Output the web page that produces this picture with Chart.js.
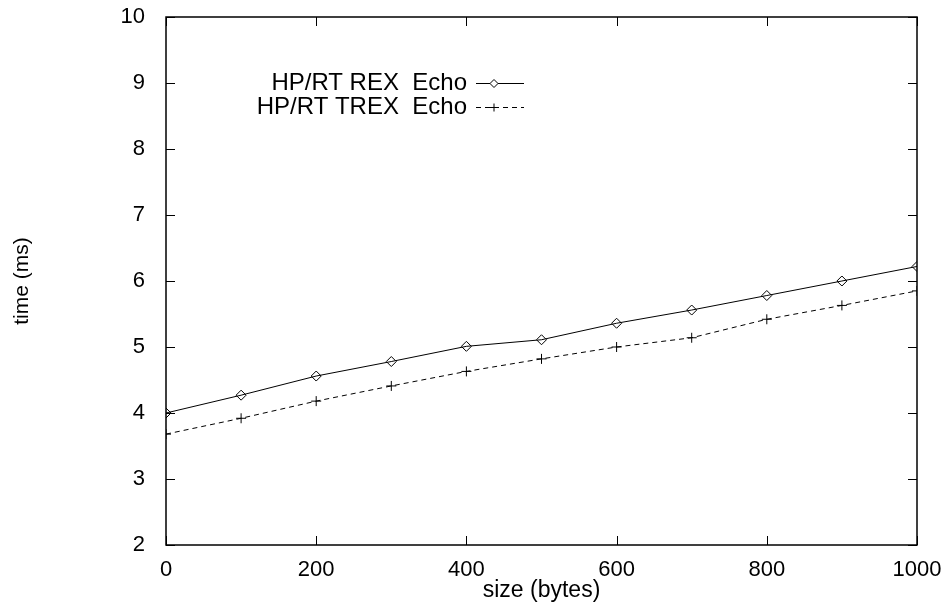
<!DOCTYPE html>
<html>
<head>
<meta charset="utf-8">
<script src="https://cdn.jsdelivr.net/npm/chart.js@4/dist/chart.umd.min.js"></script>
<style>
  html, body { margin: 0; padding: 0; background: #fff; }
  #wrap { width: 945px; height: 607px; }
</style>
</head>
<body>
<div id="wrap"><canvas id="chart_line"></canvas></div>
<script>
// message size in bytes
var sizes = [0, 100, 200, 300, 400, 500, 600, 700, 800, 900, 1000]
// round trip time (ms)
var rexEcho  = [4.00, 4.27, 4.56, 4.78, 5.01, 5.11, 5.36, 5.56, 5.78, 6.00, 6.22]
var trexEcho = [3.68, 3.92, 4.18, 4.41, 4.63, 4.82, 5.00, 5.14, 5.42, 5.63, 5.85]
var seriesNames = ["HP/RT REX  Echo", "HP/RT TREX  Echo"]
var xTicks = [0, 200, 400, 600, 800, 1000]
var yTicks = [2, 3, 4, 5, 6, 7, 8, 9, 10]

var FONT = "'Liberation Sans', Arial, Helvetica, sans-serif"

function pts(ys){
	return sizes.map(function(x, i){ return {x: x, y: ys[i]} })
}

// gnuplot style frame with inward ticks + legend at top left
var framePlugin = {
	id: "frame",
	afterDatasetsDraw: function(chart){
		var ctx = chart.ctx, a = chart.chartArea
		var xs = chart.scales.x, ys = chart.scales.y
		var tl = 9
		ctx.save()
		ctx.strokeStyle = "#000"
		ctx.lineWidth = 1
		ctx.setLineDash([])
		ctx.beginPath()
		xTicks.forEach(function(v){
			var p = Math.round(xs.getPixelForValue(v)) + 0.5
			ctx.moveTo(p, a.bottom); ctx.lineTo(p, a.bottom - tl)
			ctx.moveTo(p, a.top); ctx.lineTo(p, a.top + tl)
		})
		yTicks.forEach(function(v){
			var p = Math.round(ys.getPixelForValue(v)) + 0.5
			ctx.moveTo(a.left, p); ctx.lineTo(a.left + tl, p)
			ctx.moveTo(a.right, p); ctx.lineTo(a.right - tl, p)
		})
		ctx.stroke()
		ctx.lineWidth = 1.5
		ctx.strokeRect(a.left, a.top, a.right - a.left, a.bottom - a.top)

		// legend
		ctx.font = "24px " + FONT
		ctx.textAlign = "right"
		ctx.textBaseline = "middle"
		var rows = [83, 107]
		chart.data.datasets.forEach(function(ds, i){
			var y = rows[i]
			ctx.fillStyle = "#000"
			ctx.fillText(ds.label, 467, y)
			ctx.lineWidth = 1
			ctx.setLineDash(ds.borderDash || [])
			ctx.beginPath()
			ctx.moveTo(476, y + 0.5); ctx.lineTo(524, y + 0.5)
			ctx.stroke()
			ctx.setLineDash([])
			ctx.fillStyle = "#fff"
			Chart.helpers.drawPoint(ctx, {
				pointStyle: ds.pointStyle, radius: 4, rotation: 0, borderWidth: 1
			}, 494, y + 0.5)
		})
		ctx.restore()
	}
}

var ctx = document.getElementById("chart_line")
var myChart = new Chart(ctx, {
	type: "line",
	data: {
		datasets: [{
			label: seriesNames[0],
			data: pts(rexEcho),
			borderColor: "#000",
			borderWidth: 1,
			backgroundColor: "rgba(0,0,0,0)",
			pointStyle: "rectRot",
			pointRadius: 5,
			pointBorderWidth: 1,
			pointBorderColor: "#000",
			pointBackgroundColor: "rgba(0,0,0,0)",
			tension: 0
		}, {
			label: seriesNames[1],
			data: pts(trexEcho),
			borderColor: "#000",
			borderWidth: 1,
			borderDash: [5, 4],
			backgroundColor: "rgba(0,0,0,0)",
			pointStyle: "cross",
			pointRadius: 5,
			pointBorderWidth: 1,
			pointBorderColor: "#000",
			tension: 0
		}]
	},
	options: {
		responsive: true,
		maintainAspectRatio: false,
		animation: false,
		layout: { padding: { top: 17, right: 28, left: 0, bottom: 0 } },
		plugins: { legend: { display: false }, tooltip: { enabled: false } },
		scales: {
			x: {
				type: "linear",
				min: 0, max: 1000,
				afterBuildTicks: function(s){ s.ticks = xTicks.map(function(v){ return {value: v} }) },
				afterFit: function(s){ s.height = 62; s.paddingLeft = 0; s.paddingRight = 0 },
				grid: { display: false },
				border: { display: false },
				ticks: { color: "#000", padding: 4, maxRotation: 0, font: { family: FONT, size: 22 },
					callback: function(v){ return String(v) } },
				title: { display: true, text: "size (bytes)", color: "#000", padding: { top: 0, bottom: 3 }, font: { family: FONT, size: 23 } }
			},
			y: {
				min: 2, max: 10,
				afterBuildTicks: function(s){ s.ticks = yTicks.map(function(v){ return {value: v} }) },
				afterFit: function(s){ s.width = 166; s.paddingTop = 0; s.paddingBottom = 0 },
				grid: { display: false },
				border: { display: false },
				ticks: { color: "#000", padding: 13, font: { family: FONT, size: 22 },
					callback: function(v){ return String(v) } },
				title: { display: true, text: "time (ms)", color: "#000", padding: { top: 10, bottom: 0 }, font: { family: FONT, size: 21 } }
			}
		}
	},
	plugins: [framePlugin]
})
</script>
</body>
</html>
